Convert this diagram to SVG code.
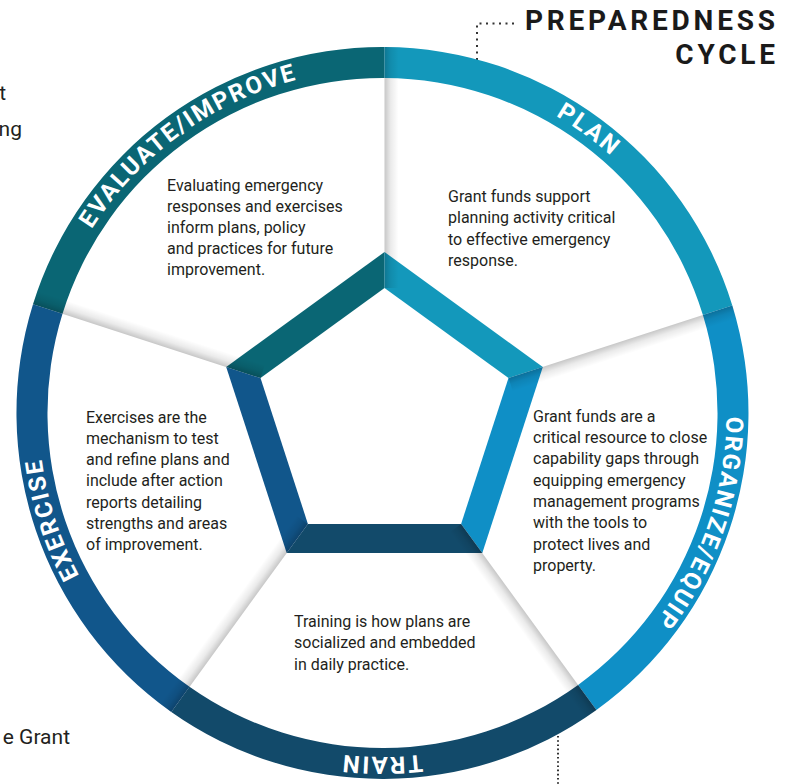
<svg xmlns="http://www.w3.org/2000/svg" xmlns:xlink="http://www.w3.org/1999/xlink" width="792" height="784" viewBox="0 0 792 784">
<style>
.c-eval{fill:#0a6674}
.c-plan{fill:#1398bb}
.c-org{fill:#0f8fc6}
.c-train{fill:#124a6a}
.c-ex{fill:#11568b}
.label{font-family:Roboto,"Liberation Sans",sans-serif;font-weight:700;font-size:24px;letter-spacing:2px;fill:#ffffff}
.body{font-family:Roboto,"Liberation Sans",sans-serif;font-size:16px;fill:#231f20}
.frag{font-family:Roboto,"Liberation Sans",sans-serif;font-size:21px;fill:#231f20;text-anchor:end}
.title{font-family:Roboto,"Liberation Sans",sans-serif;font-weight:700;font-size:28px;letter-spacing:3.8px;fill:#1a1a1a;text-anchor:end}
.dots{fill:none;stroke:#333;stroke-width:2}
</style>
<defs>
<path id="ringPath" d="M38.5,413 A344,344 0 0 1 726.5,413 A344,344 0 0 1 38.5,413"/>
<linearGradient id="shade" x1="0" y1="0" x2="0" y2="1">
<stop offset="0" stop-color="#000" stop-opacity="0.22"/>
<stop offset="0.45" stop-color="#000" stop-opacity="0.08"/>
<stop offset="1" stop-color="#000" stop-opacity="0"/>
</linearGradient>
</defs>
<rect width="792" height="784" fill="#ffffff"/>

<g id="fragments">
<text class="frag" x="6" y="100">t</text>
<text class="frag" x="22" y="136">ng</text>
<text class="frag" x="70" y="744">e Grant</text>
</g>

<g id="connectors">
<path class="dots" d="M514,23.5 H477 V60" stroke-dasharray="2 4.5"/>
<path class="dots" d="M558,736 V784" stroke-width="1.6" stroke="#555" stroke-dasharray="1.6 2.6"/>
</g>

<g id="title">
<text class="title" x="778.8" y="30">PREPAREDNESS</text>
<text class="title" x="778.8" y="64">CYCLE</text>
</g>

<g id="evaluate">
<path class="c-eval" d="M33.0,304.2 A366,366 0 0 1 384.5,47.0 L384.5,78.0 A335,335 0 0 0 62.5,313.8 Z"/>
<polygon class="c-eval" points="226.2,367.0 384.5,252.0 384.5,288.0 260.5,378.1"/>
<text class="label"><textPath href="#ringPath" startOffset="324.2" text-anchor="middle">EVALUATE/IMPROVE</textPath></text>
<text class="body"><tspan x="167" y="191">Evaluating emergency</tspan><tspan x="167" y="212">responses and exercises</tspan><tspan x="167" y="233">inform plans, policy</tspan><tspan x="167" y="254">and practices for future</tspan><tspan x="167" y="275">improvement.</tspan></text>
</g>

<g id="plan">
<path class="c-plan" d="M384.5,47.0 A366,366 0 0 1 732.3,305.4 L702.9,315.0 A335,335 0 0 0 384.5,78.0 Z"/>
<polygon class="c-plan" points="384.5,252.0 542.8,367.0 508.5,378.1 384.5,288.0"/>
<text class="label"><textPath href="#ringPath" startOffset="756.5" text-anchor="middle">PLAN</textPath></text>
<text class="body"><tspan x="448" y="202">Grant funds support</tspan><tspan x="448" y="223.3">planning activity critical</tspan><tspan x="448" y="244.6">to effective emergency</tspan><tspan x="448" y="265.9">response.</tspan></text>
</g>

<g id="organize-equip">
<path class="c-org" d="M732.3,305.4 A366,366 0 0 1 596.4,710.0 L578.1,684.9 A335,335 0 0 0 702.9,315.0 Z"/>
<polygon class="c-org" points="542.8,367.0 482.3,553.0 461.1,523.9 508.5,378.1"/>
<text class="label"><textPath href="#ringPath" startOffset="1194.8" text-anchor="middle">ORGANIZE/EQUIP</textPath></text>
<text class="body"><tspan x="533" y="421.7">Grant funds are a</tspan><tspan x="533" y="443">critical resource to close</tspan><tspan x="533" y="464.3">capability gaps through</tspan><tspan x="533" y="485.6">equipping emergency</tspan><tspan x="533" y="506.9">management programs</tspan><tspan x="533" y="528.2">with the tools to</tspan><tspan x="533" y="549.5">protect lives and</tspan><tspan x="533" y="570.8">property.</tspan></text>
</g>

<g id="train">
<path class="c-train" d="M596.4,710.0 A366,366 0 0 1 171.3,711.9 L189.5,686.8 A335,335 0 0 0 578.1,684.9 Z"/>
<polygon class="c-train" points="482.3,553.0 286.7,553.0 307.9,523.9 461.1,523.9"/>
<text class="label"><textPath href="#ringPath" startOffset="1621.1" text-anchor="middle">TRAIN</textPath></text>
<text class="body"><tspan x="294" y="627">Training is how plans are</tspan><tspan x="294" y="648.3">socialized and embedded</tspan><tspan x="294" y="669.6">in daily practice.</tspan></text>
</g>

<g id="exercise">
<path class="c-ex" d="M171.3,711.9 A366,366 0 0 1 33.0,304.2 L62.5,313.8 A335,335 0 0 0 189.5,686.8 Z"/>
<polygon class="c-ex" points="286.7,553.0 226.2,367.0 260.5,378.1 307.9,523.9"/>
<text class="label"><textPath href="#ringPath" startOffset="2053.4" text-anchor="middle">EXERCISE</textPath></text>
<text class="body"><tspan x="86" y="422.7">Exercises are the</tspan><tspan x="86" y="443.9">mechanism to test</tspan><tspan x="86" y="465.1">and refine plans and</tspan><tspan x="86" y="486.3">include after action</tspan><tspan x="86" y="507.5">reports detailing</tspan><tspan x="86" y="528.7">strengths and areas</tspan><tspan x="86" y="549.9">of improvement.</tspan></text>
</g>

<g id="spokes">
<rect transform="translate(384.5,288.0) rotate(-90)" width="241" height="14" fill="url(#shade)"/>
<rect transform="translate(508.5,378.1) rotate(-18)" width="235.3" height="14" fill="url(#shade)"/>
<rect transform="translate(461.1,523.9) rotate(54)" width="230" height="14" fill="url(#shade)"/>
<rect transform="translate(307.9,523.9) rotate(126)" width="232.4" height="14" fill="url(#shade)"/>
<rect transform="translate(260.5,378.1) rotate(198)" width="239.1" height="14" fill="url(#shade)"/>
</g>
</svg>
